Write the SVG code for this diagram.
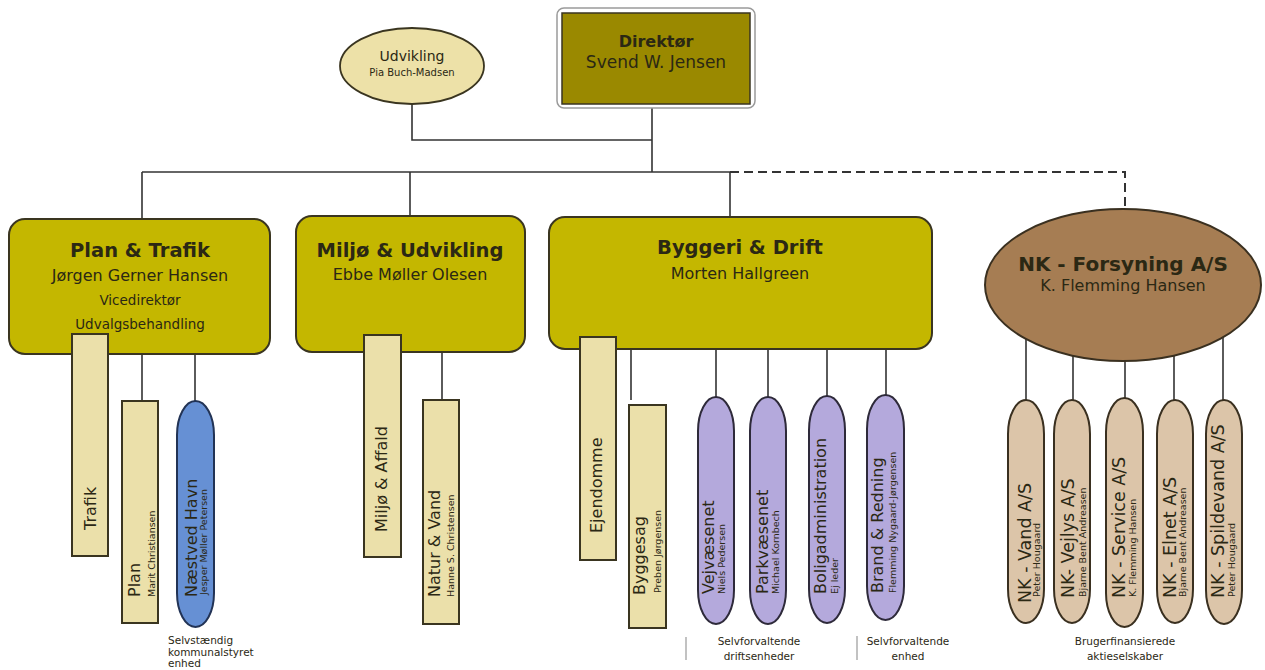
<svg xmlns="http://www.w3.org/2000/svg" width="1265" height="670" viewBox="0 0 1265 670">
<style>
text{font-family:"DejaVu Sans","Liberation Sans",sans-serif;fill:#2b2814}
.ln{stroke:#333;stroke-width:1.6;fill:none}
.dash{stroke:#333;stroke-width:2;fill:none;stroke-dasharray:9 5}
.sep{stroke:#999;stroke-width:1.2}
.dept{fill:#c4b700;stroke:#3a3520;stroke-width:2}
.sub{fill:#ebe0aa;stroke:#3a3520;stroke-width:2}
.pur{fill:#b4a9dc;stroke:#2e2a3a;stroke-width:2}
.nk{fill:#dcc5a9;stroke:#3a3020;stroke-width:2}
.blue{fill:#6690d4;stroke:#223355;stroke-width:2}
.t1{font-size:19.5px;font-weight:bold;text-anchor:middle}
.t2{font-size:16px;text-anchor:middle}
.t3{font-size:13.5px;text-anchor:middle}
.v{font-size:16px}
.vn{font-size:17.5px}
.vs{font-size:9.5px}
.lab{font-size:10.5px;text-anchor:middle}
</style>
<g id="connectors">
<polyline class="ln" points="412,104 412,140 652,140"/>
<line class="ln" x1="652" y1="108" x2="652" y2="172"/>
<line class="ln" x1="142" y1="172" x2="730" y2="172"/>
<line class="ln" x1="142" y1="172" x2="142" y2="220"/>
<line class="ln" x1="410" y1="172" x2="410" y2="217"/>
<line class="ln" x1="730" y1="172" x2="730" y2="218"/>
<polyline class="dash" points="730,172 1125,172 1125,210"/>
<line class="ln" x1="142" y1="350" x2="142" y2="401"/>
<line class="ln" x1="195" y1="350" x2="195" y2="402"/>
<line class="ln" x1="442" y1="348" x2="442" y2="400"/>
<line class="ln" x1="631" y1="345" x2="631" y2="400"/>
<line class="ln" x1="716" y1="345" x2="716" y2="398"/>
<line class="ln" x1="768" y1="345" x2="768" y2="398"/>
<line class="ln" x1="827" y1="345" x2="827" y2="396"/>
<line class="ln" x1="886" y1="345" x2="886" y2="396"/>
<line class="ln" x1="1026" y1="300" x2="1026" y2="401"/>
<line class="ln" x1="1073" y1="300" x2="1073" y2="401"/>
<line class="ln" x1="1125" y1="300" x2="1125" y2="399"/>
<line class="ln" x1="1174" y1="300" x2="1174" y2="401"/>
<line class="ln" x1="1223" y1="300" x2="1223" y2="401"/>
<line class="sep" x1="686" y1="637" x2="686" y2="660"/>
<line class="sep" x1="857" y1="636" x2="857" y2="660"/>
</g>
<g id="direktor">
<rect x="557" y="8" width="198" height="100" rx="7" fill="#fff" stroke="#9a9a9a" stroke-width="1.5"/>
<rect x="562" y="13" width="188" height="91" fill="#9a8900" stroke="#3a3520" stroke-width="1.5"/>
<text x="656" y="47" style="font-size:16px;font-weight:bold;text-anchor:middle">Direktør</text>
<text x="656" y="68" style="font-size:17px;text-anchor:middle">Svend W. Jensen</text>
</g>
<g id="udvikling">
<ellipse cx="412" cy="66" rx="72" ry="38" fill="#ede1a8" stroke="#3a3520" stroke-width="1.8"/>
<text x="412" y="61" style="font-size:14px;text-anchor:middle">Udvikling</text>
<text x="412" y="76" style="font-size:10px;text-anchor:middle">Pia Buch-Madsen</text>
</g>
<g id="plan-trafik">
<rect class="dept" x="9" y="219" width="261" height="135" rx="16"/>
<text class="t1" x="140" y="257">Plan &amp; Trafik</text>
<text class="t2" x="140" y="281">Jørgen Gerner Hansen</text>
<text class="t3" x="140" y="305">Vicedirektør</text>
<text class="t3" x="140" y="329">Udvalgsbehandling</text>
</g>
<g id="miljo-udvikling">
<rect class="dept" x="296" y="216" width="229" height="136" rx="16"/>
<text class="t1" x="410" y="257">Miljø &amp; Udvikling</text>
<text class="t2" x="410" y="280">Ebbe Møller Olesen</text>
</g>
<g id="byggeri-drift">
<rect class="dept" x="549" y="217" width="383" height="132" rx="16"/>
<text class="t1" x="740" y="254">Byggeri &amp; Drift</text>
<text class="t2" x="740" y="279">Morten Hallgreen</text>
</g>
<g id="nk-forsyning">
<ellipse cx="1123" cy="285" rx="138" ry="76" fill="#a67d53" stroke="#3a3020" stroke-width="2"/>
<text class="t1" x="1123" y="271" style="font-size:20px">NK - Forsyning A/S</text>
<text class="t2" x="1123" y="291">K. Flemming Hansen</text>
</g>
<g id="trafik">
<rect class="sub" x="72" y="334" width="36" height="222"/>
<text class="v" transform="translate(95.5,530) rotate(-90)">Trafik</text>
</g>
<g id="plan">
<rect class="sub" x="122" y="401" width="36" height="222"/>
<text class="v" transform="translate(140,597) rotate(-90)">Plan</text>
<text class="vs" transform="translate(155,597) rotate(-90)">Marit Christiansen</text>
</g>
<g id="naestved-havn">
<rect class="blue" x="177" y="401" width="37" height="226" rx="18.5" ry="34"/>
<text class="v" transform="translate(197,597) rotate(-90)">Næstved Havn</text>
<text class="vs" transform="translate(207,595) rotate(-90)">Jesper Møller Petersen</text>
</g>
<g id="miljo-affald">
<rect class="sub" x="364" y="335" width="37" height="222"/>
<text class="v" transform="translate(387,532) rotate(-90)">Miljø &amp; Affald</text>
</g>
<g id="natur-vand">
<rect class="sub" x="423" y="400" width="36" height="224"/>
<text class="v" transform="translate(440,597) rotate(-90)">Natur &amp; Vand</text>
<text class="vs" transform="translate(454,597) rotate(-90)">Hanne S. Christensen</text>
</g>
<g id="ejendomme">
<rect class="sub" x="580" y="337" width="36" height="223"/>
<text class="v" transform="translate(602,533) rotate(-90)">Ejendomme</text>
</g>
<g id="byggesag">
<rect class="sub" x="629" y="405" width="37" height="223"/>
<text class="v" transform="translate(645,595) rotate(-90)">Byggesag</text>
<text class="vs" transform="translate(661,593) rotate(-90)">Preben Jørgensen</text>
</g>
<g id="vejvaesenet">
<rect class="pur" x="698" y="397" width="36" height="227" rx="18" ry="34"/>
<text class="v" transform="translate(714,594) rotate(-90)">Vejvæsenet</text>
<text class="vs" transform="translate(725,594) rotate(-90)">Niels Pedersen</text>
</g>
<g id="parkvaesenet">
<rect class="pur" x="750" y="397" width="36" height="227" rx="18" ry="34"/>
<text class="v" transform="translate(768,594) rotate(-90)">Parkvæsenet</text>
<text class="vs" transform="translate(779,594) rotate(-90)">Michael Kornbech</text>
</g>
<g id="boligadministration">
<rect class="pur" x="809" y="396" width="36" height="227" rx="18" ry="34"/>
<text class="v" transform="translate(826,594) rotate(-90)">Boligadministration</text>
<text class="vs" transform="translate(838,594) rotate(-90)">Ej leder</text>
</g>
<g id="brand-redning">
<rect class="pur" x="867" y="395" width="37" height="225" rx="18.5" ry="34"/>
<text class="v" transform="translate(883,593) rotate(-90)">Brand &amp; Redning</text>
<text class="vs" transform="translate(896,593) rotate(-90)">Flemming Nygaard-Jørgensen</text>
</g>
<g id="nk-vand">
<rect class="nk" x="1008" y="400" width="36" height="223" rx="18" ry="34"/>
<text class="vn" transform="translate(1031,603) rotate(-90)">NK - Vand A/S</text>
<text class="vs" transform="translate(1040,597) rotate(-90)">Peter Hougaard</text>
</g>
<g id="nk-vejlys">
<rect class="nk" x="1054" y="400" width="36" height="223" rx="18" ry="34"/>
<text class="vn" transform="translate(1074,598) rotate(-90)">NK- Vejlys A/S</text>
<text class="vs" transform="translate(1086,597) rotate(-90)">Bjarne Bent Andreasen</text>
</g>
<g id="nk-service">
<rect class="nk" x="1106" y="398" width="37" height="229" rx="18.5" ry="34"/>
<text class="vn" transform="translate(1125,598) rotate(-90)">NK - Service A/S</text>
<text class="vs" transform="translate(1136,597) rotate(-90)">K. Flemming Hansen</text>
</g>
<g id="nk-elnet">
<rect class="nk" x="1157" y="400" width="36" height="223" rx="18" ry="34"/>
<text class="vn" transform="translate(1176,598) rotate(-90)">NK - Elnet A/S</text>
<text class="vs" transform="translate(1186,597) rotate(-90)">Bjarne Bent Andreasen</text>
</g>
<g id="nk-spildevand">
<rect class="nk" x="1206" y="400" width="36" height="224" rx="18" ry="34"/>
<text class="vn" transform="translate(1224,598) rotate(-90)">NK - Spildevand A/S</text>
<text class="vs" transform="translate(1235,597) rotate(-90)">Peter Hougaard</text>
</g>
<g id="labels">
<text style="font-size:10.5px" x="168" y="644">Selvstændig</text>
<text style="font-size:10.5px" x="168" y="656">kommunalstyret</text>
<text style="font-size:10.5px" x="168" y="667">enhed</text>
<text class="lab" x="759" y="645">Selvforvaltende</text>
<text class="lab" x="759" y="660">driftsenheder</text>
<text class="lab" x="908" y="645">Selvforvaltende</text>
<text class="lab" x="908" y="660">enhed</text>
<text class="lab" x="1125" y="645">Brugerfinansierede</text>
<text class="lab" x="1125" y="660">aktieselskaber</text>
</g>
</svg>
